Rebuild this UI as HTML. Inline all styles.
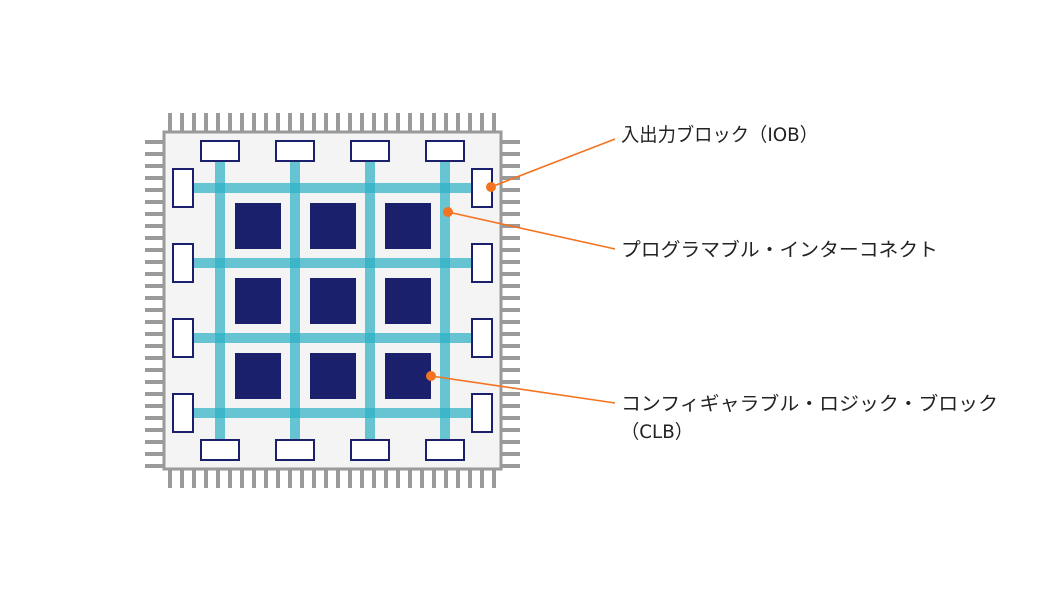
<!DOCTYPE html>
<html><head><meta charset="utf-8"><style>body{margin:0;background:#fff}svg{display:block}</style></head><body>
<svg width="1050" height="600" xmlns="http://www.w3.org/2000/svg">
<g id="pins" fill="#9a9a9a"></g>
<rect x="164" y="132" width="337" height="337" fill="#f4f4f4" stroke="#9a9a9a" stroke-width="3"/>
<g fill="#2bb0c4" opacity="0.7">
<rect x="215" y="161" width="10" height="280"/><rect x="290" y="161" width="10" height="280"/><rect x="365" y="161" width="10" height="280"/><rect x="440" y="161" width="10" height="280"/>
</g>
<g fill="#2bb0c4" opacity="0.7">
<rect x="193" y="183" width="280" height="10"/><rect x="193" y="258" width="280" height="10"/><rect x="193" y="333" width="280" height="10"/><rect x="193" y="408" width="280" height="10"/>
</g>
<g fill="#1a206b">
<rect x="235" y="203" width="46" height="46"/><rect x="310" y="203" width="46" height="46"/><rect x="385" y="203" width="46" height="46"/>
<rect x="235" y="278" width="46" height="46"/><rect x="310" y="278" width="46" height="46"/><rect x="385" y="278" width="46" height="46"/>
<rect x="235" y="353" width="46" height="46"/><rect x="310" y="353" width="46" height="46"/><rect x="385" y="353" width="46" height="46"/>
</g>
<g fill="#fff" stroke="#1a206b" stroke-width="2">
<rect x="201" y="141" width="38" height="20"/><rect x="276" y="141" width="38" height="20"/><rect x="351" y="141" width="38" height="20"/><rect x="426" y="141" width="38" height="20"/>
<rect x="201" y="440" width="38" height="20"/><rect x="276" y="440" width="38" height="20"/><rect x="351" y="440" width="38" height="20"/><rect x="426" y="440" width="38" height="20"/>
<rect x="173" y="169" width="20" height="38"/><rect x="173" y="244" width="20" height="38"/><rect x="173" y="319" width="20" height="38"/><rect x="173" y="394" width="20" height="38"/>
<rect x="472" y="169" width="20" height="38"/><rect x="472" y="244" width="20" height="38"/><rect x="472" y="319" width="20" height="38"/><rect x="472" y="394" width="20" height="38"/>
</g>
<g stroke="#f47320" stroke-width="1.6" fill="none">
<line x1="491" y1="187" x2="615" y2="139"/><line x1="448" y1="212" x2="615" y2="249"/><line x1="431" y1="376" x2="615" y2="403"/>
</g>
<g fill="#f47320"><circle cx="491" cy="187" r="5"/><circle cx="448" cy="212" r="5"/><circle cx="431" cy="376" r="5"/></g>
<g font-family="'DejaVu Sans','Noto Sans CJK JP',sans-serif" font-size="19" fill="#222">
<text x="621" y="141" textLength="197" lengthAdjust="spacingAndGlyphs">入出力ブロック（IOB）</text>
<text x="621" y="256" textLength="317" lengthAdjust="spacingAndGlyphs">プログラマブル・インターコネクト</text>
<text x="621" y="410" textLength="377" lengthAdjust="spacingAndGlyphs">コンフィギャラブル・ロジック・ブロック</text>
<text x="621" y="438" textLength="72" lengthAdjust="spacingAndGlyphs">（CLB）</text>
</g>
</svg>
<script>
var g=document.getElementById('pins'),s='';
for(var i=0;i<28;i++){var p=168+i*12;
s+='<rect x="'+p+'" y="113" width="4" height="18"/><rect x="'+p+'" y="470" width="4" height="18"/>';
var q=140+i*12;
s+='<rect x="145" y="'+q+'" width="18" height="4"/><rect x="502" y="'+q+'" width="18" height="4"/>';}
g.innerHTML=s;
</script>
</body></html>
